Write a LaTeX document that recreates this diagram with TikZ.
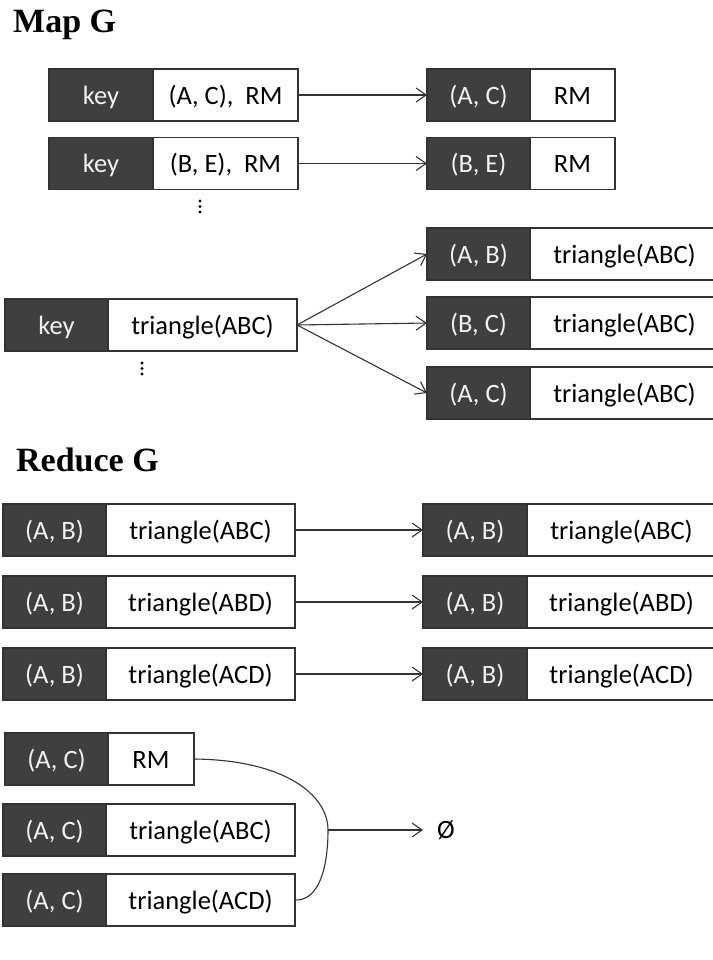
\documentclass[tikz,border=0pt]{standalone}
\usepackage{fontspec}
\usetikzlibrary{arrows.meta}
\newfontfamily\calfont{Carlito}
\newfontfamily\titlefont{Liberation Serif}
\definecolor{cellDark}{HTML}{3F3F3F}
\definecolor{cellText}{HTML}{F2F2F2}
\definecolor{edgeGray}{HTML}{333333}
\tikzset{
  cellbase/.style={draw=edgeGray, line width=1.3pt, minimum height=52pt, inner sep=0pt, outer sep=0pt,
    text height=22pt, text depth=3pt,
    anchor=north west, font=\calfont\fontsize{26.5}{30}\selectfont},
  keycell/.style={cellbase, fill=cellDark, text=cellText},
  valcell/.style={cellbase, fill=white, text=black},
  arr/.style={draw=edgeGray, line width=1.1pt, -{Straight Barb[length=10pt,width=14pt,line width=1.1pt]}},
  heading/.style={anchor=base west, inner sep=0pt, font=\titlefont\bfseries\fontsize{34}{40}\selectfont},
  dotmark/.style={circle, fill=black, inner sep=0pt, minimum size=3.2pt},
}
% key/value record: name, left x, top y, key width, value width, key text, value text
\newcommand\kvrecord[7]{%
  \node[keycell, minimum width=#4pt] (#1k) at (#2,#3) {#6};
  \node[valcell, minimum width=#5pt] (#1v) at (#1k.north east) {#7};
}
\begin{document}
\begin{tikzpicture}[x=1pt, y=-1pt]
\useasboundingbox (0,0) rectangle (712,960);

% ---------------- Map G ----------------
\node[heading] (mapTitle) at (13,33) {Map G};

\kvrecord{ma}{49}{69}{104}{145}{key}{(A, C),\ \ RM}
\kvrecord{mb}{49}{137.5}{104}{145}{key}{(B, E),\ \ RM}
\kvrecord{oa}{427}{69}{103}{85}{(A, C)}{RM}
\kvrecord{ob}{427}{137.5}{103}{85}{(B, E)}{RM}
\draw[arr] (mav.east) -- (oak.west);
\draw[arr] (mbv.east) -- (obk.west);

\node[dotmark] (da1) at (200,201) {};
\node[dotmark] (da2) at (200,206.5) {};
\node[dotmark] (da3) at (200,212) {};

\kvrecord{tk}{5}{299}{103}{189}{key}{triangle(ABC)}
\kvrecord{ta}{427}{228}{103}{189}{(A, B)}{triangle(ABC)}
\kvrecord{tb}{427}{297}{103}{189}{(B, C)}{triangle(ABC)}
\kvrecord{tc}{427}{367}{103}{189}{(A, C)}{triangle(ABC)}
\draw[arr] (tkv.east) -- (tak.west);
\draw[arr] (tkv.east) -- (tbk.west);
\draw[arr] (tkv.east) -- (tck.west);

\node[dotmark] (db1) at (142,363) {};
\node[dotmark] (db2) at (142,368.5) {};
\node[dotmark] (db3) at (142,374) {};

% ---------------- Reduce G ----------------
\node[heading] (reduceTitle) at (16,471) {Reduce G};

\kvrecord{ra}{3}{504}{103}{189}{(A, B)}{triangle(ABC)}
\kvrecord{rb}{3}{576}{103}{189}{(A, B)}{triangle(ABD)}
\kvrecord{rc}{3}{648}{103}{189}{(A, B)}{triangle(ACD)}
\kvrecord{sa}{423}{504}{104}{189}{(A, B)}{triangle(ABC)}
\kvrecord{sb}{423}{576}{104}{189}{(A, B)}{triangle(ABD)}
\kvrecord{sc}{423}{648}{104}{189}{(A, B)}{triangle(ACD)}
\draw[arr] (rav.east) -- (sak.west);
\draw[arr] (rbv.east) -- (sbk.west);
\draw[arr] (rcv.east) -- (sck.west);

\kvrecord{ca}{5}{733}{103}{86}{(A, C)}{RM}
\kvrecord{cb}{3}{804}{103}{189}{(A, C)}{triangle(ABC)}
\kvrecord{cc}{3}{874}{103}{189}{(A, C)}{triangle(ACD)}

% merge of the first and last record into the empty set
\coordinate (join) at (328,830);
\node[anchor=west, inner sep=0pt, font=\calfont\fontsize{26.5}{30}\selectfont] (empty) at (437,830) {Ø};
\draw[draw=edgeGray, line width=1.1pt]
  (cav.east) .. controls (285,760) and (328,795) .. (join)
  .. controls (328,870) and (318,901) .. (ccv.east);
\draw[arr, shorten >=14pt] (join) -- (empty.west);
\end{tikzpicture}
\end{document}
